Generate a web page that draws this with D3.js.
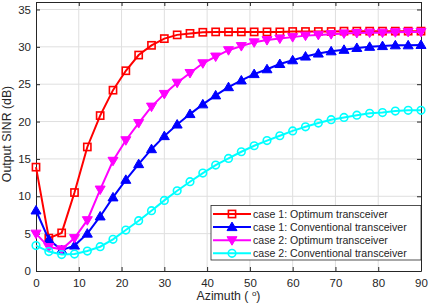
<!DOCTYPE html>
<html>
<head>
<meta charset="utf-8">
<script src="https://cdn.jsdelivr.net/npm/d3@7"></script>
<style>
  body { margin: 0; background: #fff; }
  svg { display: block; font-family: "Liberation Sans", Arial, sans-serif; }
  .grid line { stroke: #dfdfdf; stroke-width: 1; }
  .tick text { fill: #262626; font-size: 11.5px; }
</style>
</head>
<body>
<div id="root"></div>
<script>
// azimuth samples (deg)
const azimuth = [0, 3, 6, 9, 12, 15, 18, 21, 24, 27, 30, 33, 36, 39, 42, 45,
    48, 51, 54, 57, 60, 63, 66, 69, 72, 75, 78, 81, 84, 87, 90];

const case1Optimum = [13.9, 4.4, 5.1, 10.5, 16.6, 20.8, 24.2, 26.8, 28.9, 30.2, 31.1,
    31.6, 31.8, 31.95, 32.0, 32.0, 32.0, 32.0, 32.0, 32.0, 32.05, 32.05, 32.05,
    32.05, 32.1, 32.1, 32.1, 32.1, 32.1, 32.1, 32.1];
const case1Conventional = [8.1, 4.2, 2.8, 3.4, 5.0, 7.3, 9.85, 12.2, 14.3, 16.3, 18.05,
    19.6, 21.0, 22.3, 23.5, 24.6, 25.5, 26.35, 27.0, 27.7, 28.2, 28.7, 29.1,
    29.4, 29.6, 29.85, 30.0, 30.1, 30.2, 30.2, 30.25];
const case2Optimum = [5.0, 3.2, 2.9, 4.4, 6.8, 10.9, 14.75, 17.5, 19.8, 22.0, 23.7,
    25.2, 26.5, 27.8, 28.7, 29.55, 30.1, 30.6, 30.9, 31.1, 31.3, 31.5, 31.6,
    31.7, 31.8, 31.85, 31.9, 31.9, 31.95, 32.0, 32.0];
const case2Conventional = [3.4, 2.6, 2.2, 2.27, 2.67, 3.25, 4.24, 5.48, 6.73, 8.07, 9.45,
    10.74, 11.95, 13.1, 14.18, 15.07, 15.96, 16.76, 17.45, 18.1, 18.75, 19.3, 19.8,
    20.25, 20.55, 20.85, 21.1, 21.2, 21.4, 21.5, 21.5];

const seriesNames = ['case 1: Optimum transceiver', 'case 1: Conventional transceiver',
    'case 2: Optimum transceiver', 'case 2: Conventional transceiver'];
const xTicks = [0, 10, 20, 30, 40, 50, 60, 70, 80, 90];
const yTicks = [0, 5, 10, 15, 20, 25, 30, 35];

const series = [
    { name: seriesNames[0], values: case1Optimum, color: '#ff0000', marker: 'square' },
    { name: seriesNames[1], values: case1Conventional, color: '#0000ff', marker: 'up' },
    { name: seriesNames[2], values: case2Optimum, color: '#ff00ff', marker: 'down' },
    { name: seriesNames[3], values: case2Conventional, color: '#00ffff', marker: 'circle' }
];

const width = 429, height = 305;
const margin = { left: 36, right: 8, top: 2, bottom: 34 };

const svg = d3.select('#root').append('svg')
    .attr('width', width)
    .attr('height', height);

const x = d3.scaleLinear().domain([0, 90]).range([margin.left, width - margin.right]);
const y = d3.scaleLinear().domain([0, 36]).range([height - margin.bottom, margin.top]);

// grid
const grid = svg.append('g').attr('class', 'grid');
grid.selectAll('.gx').data(xTicks.slice(1, -1)).enter().append('line')
    .attr('x1', d => x(d)).attr('x2', d => x(d))
    .attr('y1', y(0)).attr('y2', y(36));
grid.selectAll('.gy').data(yTicks.slice(1)).enter().append('line')
    .attr('y1', d => y(d)).attr('y2', d => y(d))
    .attr('x1', x(0)).attr('x2', x(90));

// axes (ticks inward, box all round)
const axisColor = '#262626';
const styleAxis = g => {
    g.select('.domain').attr('stroke', axisColor);
    g.selectAll('.tick line').attr('stroke', axisColor);
};
svg.append('g').attr('transform', `translate(0,${y(0)})`)
    .call(d3.axisBottom(x).tickValues(xTicks).tickSizeInner(-4).tickSizeOuter(0).tickPadding(8))
    .call(styleAxis);
svg.append('g').attr('transform', `translate(0,${y(36)})`)
    .call(d3.axisTop(x).tickValues(xTicks).tickSizeInner(-4).tickSizeOuter(0).tickFormat(''))
    .call(styleAxis);
svg.append('g').attr('transform', `translate(${x(0)},0)`)
    .call(d3.axisLeft(y).tickValues(yTicks).tickSizeInner(-4).tickSizeOuter(0).tickPadding(5))
    .call(styleAxis);
svg.append('g').attr('transform', `translate(${x(90)},0)`)
    .call(d3.axisRight(y).tickValues(yTicks).tickSizeInner(-4).tickSizeOuter(0).tickFormat(''))
    .call(styleAxis);

// axis labels
const xl = svg.append('text')
    .attr('x', (x(0) + x(90)) / 2).attr('y', 300)
    .attr('text-anchor', 'middle').attr('fill', axisColor).style('font-size', '12.3px');
xl.append('tspan').text('Azimuth ( ');
xl.append('tspan').attr('dy', -4).style('font-size', '8px').text('o');
xl.append('tspan').attr('dy', 4).text(')');
svg.append('text')
    .attr('transform', `translate(11,134) rotate(-90)`)
    .attr('text-anchor', 'middle').attr('fill', axisColor).style('font-size', '12.3px')
    .text('Output SINR (dB)');

// marker drawing
const drawMarker = (sel, s) => {
    if (s.marker === 'square') {
        sel.append('rect').attr('x', -3.6).attr('y', -3.6).attr('width', 7.2).attr('height', 7.2)
            .attr('fill', 'none').attr('stroke', s.color).attr('stroke-width', 1.6);
    } else if (s.marker === 'circle') {
        sel.append('circle').attr('r', 3.8)
            .attr('fill', 'none').attr('stroke', s.color).attr('stroke-width', 1.6);
    } else {
        const dir = s.marker === 'up' ? -1 : 1;
        sel.append('path')
            .attr('d', `M0,${dir * 5}L${-5},${-dir * 3.5}L5,${-dir * 3.5}Z`)
            .attr('fill', s.color).attr('stroke', s.color).attr('stroke-width', 1);
    }
};

const line = d3.line().x((d, i) => x(azimuth[i])).y(d => y(d));

series.forEach(s => {
    const g = svg.append('g');
    g.append('path').datum(s.values)
        .attr('d', line)
        .attr('fill', 'none')
        .attr('stroke', s.color)
        .attr('stroke-width', 2);
    g.selectAll('.m').data(s.values).enter().append('g')
        .attr('transform', (d, i) => `translate(${x(azimuth[i])},${y(d)})`)
        .each(function() { drawMarker(d3.select(this), s); });
});

// legend
const lg = svg.append('g');
lg.append('rect')
    .attr('x', 211).attr('y', 205.5).attr('width', 210).attr('height', 54.5)
    .attr('fill', '#fff').attr('stroke', axisColor).attr('stroke-width', 0.8);
series.forEach((s, i) => {
    const ry = 214 + i * 13.1;
    lg.append('line').attr('x1', 213).attr('x2', 251).attr('y1', ry).attr('y2', ry)
        .attr('stroke', s.color).attr('stroke-width', 2);
    const m = lg.append('g').attr('transform', `translate(232,${ry})`);
    drawMarker(m, s);
    lg.append('text').attr('x', 253).attr('y', ry + 3.8)
        .attr('fill', axisColor).style('font-size', '10.6px')
        .text(s.name);
});
</script>
</body>
</html>
